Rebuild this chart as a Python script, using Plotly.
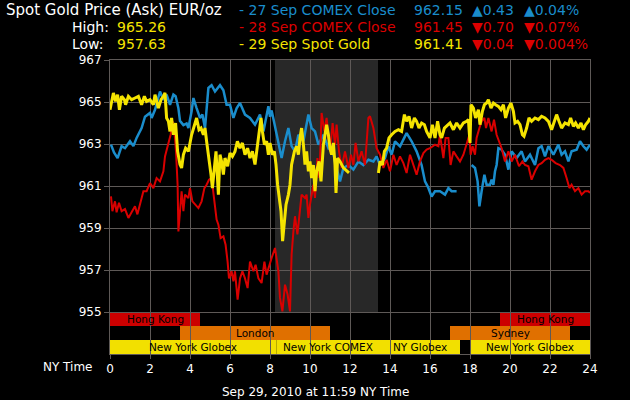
import plotly.graph_objects as go

# ---------------- data ----------------
blue_h = [0.05,0.2,0.38,0.58,0.75,1.0,1.17,1.33,1.58,1.75,2.0,2.08,2.25,2.42,2.5,2.67,2.83,3.0,3.17,3.28,3.42,3.5,3.67,3.83,3.92,
          4.08,4.17,4.33,4.5,4.62,4.75,4.92,5.08,5.25,5.5,5.67,5.83,6.0,6.17,6.33,6.5,6.75,7.0,7.25,7.5,7.67,7.92,8.0,8.08,8.17,
          8.42,8.58,8.75,8.92,9.08,9.25,9.42,9.67,9.92,10.08,10.25,10.42,10.67,10.92,11.08,11.25,11.5,11.67,11.92,12.17,12.42,
          12.67,12.92,13.17,13.33,13.5,13.75,13.92,14.08,14.25,14.5,14.67,14.83,15.08,15.33,15.58,15.75,15.9,16.08,16.25,16.5,
          16.75,16.92,17.08,17.33,None,18.08,18.25,18.38,18.47,18.58,18.72,18.83,19.0,19.08,19.17,19.25,19.33,19.42,19.58,19.75,
          19.92,20.08,20.33,20.58,20.75,21.0,21.25,21.42,21.58,21.75,21.92,22.17,22.42,22.58,22.75,22.92,23.08,23.33,23.5,23.67,
          23.83,24.0]
blue_v = [962.97,962.6,962.33,962.9,962.8,963.13,962.9,963.29,963.76,964.3,964.48,964.24,964.63,965.19,965.5,965.1,965.35,964.87,
          965.35,965.27,964.7,964.1,963.9,963.98,963.76,964.56,965.19,964.71,964.24,964.4,963.76,965.67,965.8,965.5,965.8,965.56,
          964.87,964.87,964.24,964.7,964.95,964.4,964.24,963.92,964.4,963.6,964.8,964.3,964.6,964.2,962.97,962.33,963.13,963.76,
          962.9,962.65,963.44,963.13,964.4,963.76,963.6,962.97,963.44,962.8,962.97,962.17,961.22,961.86,962.0,961.78,962.17,962.0,
          962.25,962.17,962.41,962.0,962.33,962.89,962.49,963.13,962.89,963.2,963.52,963.13,962.65,962.0,961.22,960.95,960.5,
          960.75,960.75,960.59,960.9,960.75,960.75,None,962.0,961.86,961.22,960.03,960.75,961.54,961.06,961.06,961.3,961.06,961.7,
          962.0,962.8,962.73,962.49,961.78,962.65,962.33,962.65,962.17,962.49,962.0,962.8,962.9,962.41,962.9,962.49,962.97,962.49,
          962.65,962.17,962.65,962.73,963.13,962.89,962.73,962.97]

red_h = [0.05,0.12,0.25,0.33,0.45,0.58,0.75,0.92,1.08,1.25,1.37,1.5,1.67,1.83,2.0,2.17,2.33,2.5,2.67,2.75,2.92,3.03,3.13,3.25,3.3,
         3.38,3.42,3.5,3.58,3.67,3.75,3.92,4.0,4.12,4.25,4.42,4.58,4.72,4.83,4.95,5.08,5.2,5.33,5.42,5.53,5.67,5.78,5.88,5.95,
         6.08,6.17,6.25,6.38,6.5,6.62,6.75,6.88,7.0,7.17,7.28,7.42,7.58,7.72,7.83,8.0,8.08,8.25,8.42,8.5,8.62,8.75,8.88,9.0,
         9.08,9.17,9.25,9.37,9.5,9.58,9.75,9.83,9.92,10.0,10.17,10.25,10.37,10.47,10.58,10.72,10.83,11.0,11.13,11.25,11.33,
         11.45,11.58,11.75,11.92,12.05,12.17,12.28,12.42,12.58,12.75,12.92,13.0,13.17,13.33,13.5,13.67,13.83,14.0,14.17,14.33,
         14.5,14.67,14.83,15.0,15.17,15.33,15.5,15.67,15.83,16.0,16.25,16.42,16.5,16.67,16.78,16.92,17.03,17.17,17.33,17.5,
         17.67,17.83,17.97,18.03,18.13,18.25,18.33,18.47,18.58,18.72,18.8,18.92,19.08,19.2,19.33,19.45,19.58,19.75,19.92,20.08,
         20.25,20.45,20.62,20.75,20.92,21.08,21.25,21.42,21.58,21.75,21.92,22.08,22.28,22.5,22.67,22.83,22.97,23.08,23.25,23.42,
         23.58,23.75,23.92,24.0]
red_v = [960.51,959.8,960.27,959.75,960.2,959.8,959.9,959.48,959.75,960.03,959.65,960.11,960.75,960.75,961.14,960.9,961.38,961.22,
         961.7,962.41,963.05,963.44,964.08,963.29,962.65,961.06,958.84,959.95,960.75,959.8,960.59,960.43,960.9,960.27,960.11,
         959.95,960.27,960.9,961.06,961.3,961.38,960.43,959.4,959.16,958.52,958.6,958.2,957.4,956.6,956.94,956.46,956.94,955.59,
         956.6,956.94,956.6,956.14,957.4,956.94,957.25,956.6,956.38,957.4,956.78,957.4,957.57,958.05,956.94,955.67,955.03,956.3,
         955.83,955.03,957.73,958.84,959.56,958.7,959.8,960.59,960.43,960.59,959.48,960.11,961.06,960.43,962.33,961.38,964.48,
         963.6,964.24,962.65,964.0,962.97,963.92,962.65,961.86,962.65,961.86,962.49,962.0,963.05,962.17,962.65,962.0,964.24,
         964.32,963.76,962.8,962.49,961.86,962.25,961.7,962.49,962.0,962.41,962.09,961.62,962.49,962.0,961.54,962.17,962.57,
         962.73,962.8,962.97,962.89,963.44,962.33,963.29,963.29,962.0,962.65,962.41,962.17,962.49,963.05,963.44,962.49,962.89,
         962.49,963.29,963.76,964.08,964.24,963.76,964.24,963.6,964.16,963.44,963.13,962.8,962.17,962.65,962.17,962.49,961.94,
         962.17,962.0,961.94,961.3,961.7,962.0,962.09,962.25,962.33,962.25,962.09,962.0,961.86,961.38,960.9,961.06,960.75,
         960.9,960.59,960.75,960.75,960.67]

yel_h = [0.0,0.05,0.17,0.28,0.38,0.47,0.58,0.72,0.78,0.92,1.08,1.25,1.42,1.58,1.72,1.83,2.0,2.17,2.25,2.42,2.55,2.67,2.75,2.83,
         2.92,3.0,3.08,3.17,3.28,3.38,3.5,3.58,3.67,3.78,3.92,4.08,4.25,4.33,4.45,4.55,4.67,4.75,4.83,4.95,5.05,5.12,5.22,5.3,
         5.42,5.5,5.58,5.67,5.75,5.88,6.0,6.12,6.25,6.37,6.5,6.62,6.75,6.88,7.0,7.12,7.25,7.33,7.45,7.55,7.62,7.72,7.83,7.92,
         8.0,8.12,8.22,8.3,8.38,8.47,8.55,8.63,8.72,8.8,8.92,9.0,9.08,9.22,9.33,9.42,9.5,9.58,9.67,9.75,9.83,9.92,10.0,10.08,
         10.17,10.25,10.33,10.45,10.55,10.67,10.75,10.83,10.92,11.0,11.08,11.17,11.25,11.3,11.38,11.5,11.67,11.83,11.95,None,
         13.42,13.5,13.62,13.72,13.83,13.95,14.08,14.25,14.42,14.58,14.72,14.83,14.95,15.08,15.22,15.33,15.45,15.58,15.72,15.83,
         16.0,16.12,16.25,16.38,16.5,16.58,16.72,16.83,17.0,17.17,17.33,17.5,17.67,17.83,17.92,18.0,18.05,18.17,18.28,18.42,
         18.5,18.62,18.72,18.83,18.92,19.05,19.17,19.28,19.42,19.55,19.67,19.78,19.92,20.05,20.17,20.25,20.38,20.5,20.62,20.7,
         20.83,20.95,21.08,21.25,21.42,21.58,21.75,21.92,22.08,22.22,22.33,22.45,22.58,22.75,22.92,23.03,23.17,23.28,23.42,
         23.55,23.67,23.78,23.92,24.0]
yel_v = [964.63,964.87,965.43,965.03,965.35,964.63,965.27,965.11,964.87,965.27,965.11,965.19,965.27,964.87,965.27,965.03,965.11,
         964.87,965.35,964.71,965.11,965.27,965.43,964.24,964.08,963.6,964.24,963.44,964.0,962.65,962.02,961.86,962.49,962.8,
         962.65,963.44,964.08,964.24,963.68,963.76,963.44,963.76,963.13,962.33,961.54,960.9,961.86,962.65,960.59,962.49,962.17,
         961.54,962.33,961.94,962.57,962.41,962.65,963.13,962.8,963.05,962.49,962.8,962.33,962.65,962.02,962.65,963.44,964.24,
         963.6,962.97,963.13,962.49,963.05,962.49,962.65,962.02,961.06,960.27,959.8,958.37,959.16,960.11,960.59,961.06,962.02,
         962.65,962.89,962.49,963.29,963.76,962.97,962.02,962.65,961.7,962.17,961.38,962.0,960.75,961.7,962.17,961.22,962.97,
         963.44,963.92,963.44,962.8,962.49,963.05,962.0,960.67,962.33,962.17,961.86,961.7,961.62,None,961.62,962.17,962.0,
         962.65,962.8,963.29,963.44,963.6,963.68,963.6,964.4,964.08,964.32,963.76,964.24,964.08,963.76,964.0,963.92,963.6,
         963.29,963.92,963.29,964.08,963.44,963.29,963.76,963.84,964.0,963.68,964.0,963.76,964.0,964.08,964.16,963.05,964.87,
         964.71,964.24,964.63,963.92,964.56,964.87,964.95,965.11,964.71,964.95,964.87,964.79,964.63,964.87,964.24,964.71,
         964.95,964.56,964.0,964.08,963.92,963.44,963.37,963.76,964.24,964.08,964.24,964.16,964.32,964.24,964.08,963.68,
         964.08,964.4,964.08,963.76,964.0,963.92,964.24,963.84,964.0,963.76,964.0,963.68,963.92,964.08,964.24]

# trading sessions: (name, start hour, end hour, row)
session_names = ["Hong Kong", "Hong Kong", "London", "Sydney", "New York Globex", "New York COMEX", "NY Globex", "New York Globex"]
session_start = [0, 19.5, 3.5, 17, 0, 8.33, 13.5, 18]
session_end = [4.5, 24, 11, 23, 8.33, 13.5, 17.5, 24]
session_row = [0, 0, 1, 1, 2, 2, 2, 2]
comex_shade = [8.25, 13.4]

x_ticks = list(range(0, 25, 2))
y_ticks = [955, 957, 959, 961, 963, 965, 967]

header_title = "Spot Gold Price (Ask) EUR/oz"
high_val = "965.26"
low_val = "957.63"
legend_names = ["- 27 Sep COMEX Close", "- 28 Sep COMEX Close", "- 29 Sep Spot Gold"]
legend_price = ["962.15", "961.45", "961.41"]
legend_chg = ["▲0.43", "▼0.70", "▼0.04"]
legend_pct = ["▲0.04%", "▼0.07%", "▼0.004%"]
footer = "Sep 29, 2010 at 11:59 NY Time"

# ---------------- styling ----------------
BLUE = "#1a8dcc"
RED = "#d90000"
YEL = "#f5e400"
ARROW_UP = BLUE
ARROW_DN = "#dd0000"
GRID = "#5e5957"
FONT = "DejaVu Sans"

fig = go.Figure()
fig.add_trace(go.Scatter(x=blue_h, y=blue_v, mode="lines", line=dict(color=BLUE, width=2.5), connectgaps=False))
fig.add_trace(go.Scatter(x=red_h, y=red_v, mode="lines", line=dict(color=RED, width=2), connectgaps=False))
fig.add_trace(go.Scatter(x=yel_h, y=yel_v, mode="lines", line=dict(color=YEL, width=3), connectgaps=False))

# shaded COMEX region
fig.add_shape(type="rect", xref="x", yref="y", x0=comex_shade[0], x1=comex_shade[1], y0=955, y1=967,
              fillcolor="#282828", line_width=0, layer="below")

row_colors = ["#cc0000", "#e07000", "#f2e000"]
row_y = [(954.333, 955), (953.667, 954.333), (953, 953.667)]
for name, s, e, r in zip(session_names, session_start, session_end, session_row):
    y0, y1 = row_y[r]
    fig.add_shape(type="rect", xref="x", yref="y", x0=s, x1=e, y0=y0, y1=y1,
                  fillcolor=row_colors[r], line_width=0, layer="below")
    fig.add_annotation(x=(s + e) / 2, y=(y0 + y1) / 2, xref="x", yref="y", text=name, showarrow=False,
                       font=dict(family=FONT, size=10.5, color="black"), xanchor="center", yanchor="middle")

L, R, T, B = 110, 590, 60, 354
def px(x):
    return (x - L) / (R - L)
def py(y):
    return (B - y) / (B - T)

def txt(x, y, s, color, size=14, anchor="left"):
    fig.add_annotation(x=px(x), y=py(y), xref="paper", yref="paper", text=s, showarrow=False,
                       font=dict(family=FONT, size=size, color=color), xanchor=anchor, yanchor="middle")

txt(4, 10, header_title, "white", size=15)
txt(70, 27, "High:", "white")
txt(115, 27, high_val, YEL)
txt(70, 44, "Low:", "white")
txt(115, 44, low_val, YEL)

row_col = [BLUE, RED, YEL]
chg_col = [ARROW_UP, ARROW_DN, ARROW_DN]
for i in range(3):
    yy = 10 + 17 * i
    txt(237, yy, legend_names[i], row_col[i])
    txt(412, yy, legend_price[i], row_col[i])
    txt(470, yy, legend_chg[i], chg_col[i])
    txt(522, yy, legend_pct[i], chg_col[i])

txt(95, 367, "NY Time", "white", size=12, anchor="right")
txt(315, 392, footer, "white", size=12, anchor="center")

fig.update_layout(
    width=630, height=400,
    margin=dict(l=L, r=630 - R, t=T, b=400 - B),
    paper_bgcolor="black", plot_bgcolor="black",
    showlegend=False,
    font=dict(family=FONT, color="white", size=12),
)
fig.update_xaxes(range=[0, 24], tickvals=x_ticks, ticktext=[str(v) for v in x_ticks],
                 showgrid=True, gridcolor=GRID, gridwidth=1, zeroline=False,
                 showline=True, linecolor=GRID, linewidth=1, mirror=True,
                 ticks="outside", ticklen=4, tickcolor=GRID, tickfont=dict(size=12, color="white", family=FONT))
fig.update_yaxes(range=[953, 967], tickvals=y_ticks, ticktext=[str(v) for v in y_ticks],
                 showgrid=True, gridcolor=GRID, gridwidth=1, zeroline=False,
                 showline=True, linecolor=GRID, linewidth=1, mirror=True,
                 ticks="outside", ticklen=5, tickcolor=GRID, tickfont=dict(size=12, color="white", family=FONT))

fig.write_html("out.html", config={"displayModeBar": False},
               post_script="document.body.style.margin='0';document.body.style.background='black';")
